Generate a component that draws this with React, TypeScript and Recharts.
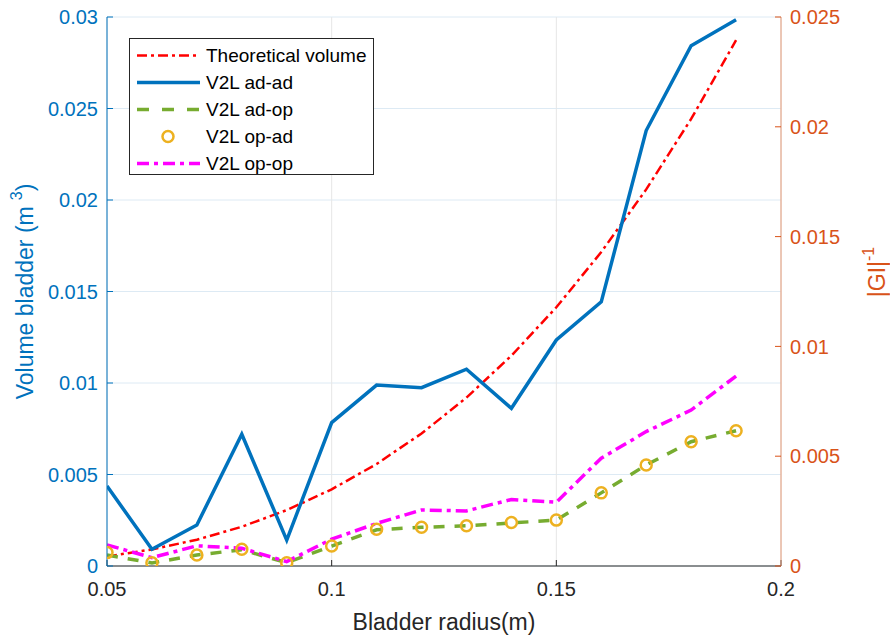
import { LineChart, Line, XAxis, YAxis, CartesianGrid, Legend } from "recharts";

// bladder radius (m)
const radius = [0.05, 0.06, 0.07, 0.08, 0.09, 0.1, 0.11, 0.12, 0.13, 0.14, 0.15, 0.16, 0.17, 0.18, 0.19];

// left axis: volume (m^3)
const theoreticalVolume = [
  0.000524, 0.000905, 0.001437, 0.002145, 0.003054, 0.004189, 0.005575, 0.007238,
  0.009203, 0.011494, 0.014137, 0.017157, 0.02058, 0.024429, 0.028731,
];

// right axis: |GI|^-1
const v2lAdAd = [
  0.00364, 0.00076, 0.00187, 0.006, 0.00118, 0.00653, 0.00824, 0.00812,
  0.00896, 0.00718, 0.01029, 0.01203, 0.01983, 0.02369, 0.02487,
];
const v2lAdOp = [
  0.0005, 0.00014, 0.0005, 0.00074, 0.00015, 0.00091, 0.00165, 0.00176,
  0.00183, 0.00196, 0.00209, 0.00333, 0.0046, 0.00566, 0.00616,
];
const v2lOpAd = [
  0.00061, 0.00015, 0.0005, 0.00076, 0.00015, 0.00091, 0.00167, 0.00176,
  0.00183, 0.00198, 0.00209, 0.00333, 0.0046, 0.00566, 0.00616,
];
const v2lOpOp = [
  0.00096, 0.00038, 0.00092, 0.00081, 0.0002, 0.00122, 0.00194, 0.00255,
  0.00251, 0.00303, 0.0029, 0.00491, 0.00612, 0.0071, 0.00865,
];

const xTicks = [0.05, 0.1, 0.15, 0.2];
const leftTicks = [0, 0.005, 0.01, 0.015, 0.02, 0.025, 0.03];
const rightTicks = [0, 0.005, 0.01, 0.015, 0.02, 0.025];

const BLUE = "#0072BD";
const ORANGE = "#D95319";
const FONT = '"Liberation Sans", Arial, Helvetica, sans-serif';

const rows = radius.map((r, i) => ({
  r,
  theory: theoreticalVolume[i],
  adAd: v2lAdAd[i],
  adOp: v2lAdOp[i],
  opAd: v2lOpAd[i],
  opOp: v2lOpOp[i],
}));

type Entry = { name: string; color: string; width: number; dash?: string; marker?: boolean };

const legendEntries: Entry[] = [
  { name: "Theoretical volume", color: "#FF0000", width: 2.5, dash: "10 4 3 4" },
  { name: "V2L ad-ad", color: BLUE, width: 3.5 },
  { name: "V2L ad-op", color: "#77AC30", width: 3.5, dash: "12 13" },
  { name: "V2L op-ad", color: "#EDB120", width: 2.5, marker: true },
  { name: "V2L op-op", color: "#FF00FF", width: 3.5, dash: "12 5 4 5" },
];

function LegendBox() {
  return (
    <div
      style={{
        width: 245,
        height: 137,
        boxSizing: "border-box",
        border: "1px solid #262626",
        background: "#fff",
        paddingTop: 3,
        fontFamily: FONT,
        fontSize: 19,
        color: "#000",
        whiteSpace: "nowrap",
      }}
    >
      {legendEntries.map((e) => (
        <div key={e.name} style={{ display: "flex", alignItems: "center", height: 27 }}>
          <svg width={76} height={27} style={{ flex: "none" }}>
            {e.marker ? (
              <circle cx={38} cy={13.5} r={5.5} fill="none" stroke={e.color} strokeWidth={e.width} />
            ) : (
              <line
                x1={7}
                x2={70}
                y1={13.5}
                y2={13.5}
                stroke={e.color}
                strokeWidth={e.width}
                strokeDasharray={e.dash}
              />
            )}
          </svg>
          <span>{e.name}</span>
        </div>
      ))}
    </div>
  );
}

const xTitle = (props: any) => {
  const vb = props.viewBox;
  return (
    <text x={vb.x + vb.width / 2} y={vb.y + 56} textAnchor="middle" dominantBaseline="central" fontSize={23} fill="#262626" fontFamily={FONT}>
      Bladder radius(m)
    </text>
  );
};

const leftTitle = (props: any) => {
  const vb = props.viewBox;
  const cx = vb.x - 2;
  const cy = vb.y + vb.height / 2;
  return (
    <text x={cx} y={cy} transform={`rotate(-90 ${cx} ${cy})`} textAnchor="middle" dominantBaseline="central" fontSize={23} fill={BLUE} fontFamily={FONT}>
      Volume bladder (m
      <tspan dx={6} dy={-9} fontSize={16}>3</tspan>
      <tspan dy={9}>)</tspan>
    </text>
  );
};

const rightTitle = (props: any) => {
  const vb = props.viewBox;
  const cx = vb.x + 96;
  const cy = vb.y + 255;
  return (
    <text x={cx} y={cy} transform={`rotate(-90 ${cx} ${cy})`} textAnchor="middle" dominantBaseline="central" fontSize={23} fill={ORANGE} fontFamily={FONT}>
      |GI|
      <tspan dy={-9} fontSize={16}>-1</tspan>
    </text>
  );
};

export default function App() {
  return (
    <div style={{ position: "absolute", left: 0, top: 0, background: "#fff", fontFamily: FONT }}>
      <LineChart width={890} height={637} data={rows} margin={{ top: 17, right: 29, bottom: 31, left: 27 }}>
        <CartesianGrid yAxisId="left" xAxisId="bottom" vertical={false} stroke="#DDEAF4" strokeWidth={1} />
        <CartesianGrid yAxisId="left" xAxisId="bottom" horizontal={false} stroke="#E6E6E6" strokeWidth={1} />
        <XAxis
          xAxisId="bottom"
          dataKey="r"
          type="number"
          domain={[0.05, 0.2]}
          ticks={xTicks}
          allowDataOverflow
          height={40}
          tickSize={-6}
          tickMargin={22}
          stroke="#262626"
          tick={{ fontSize: 20, fill: "#262626" }}
          label={xTitle}
        />
        <XAxis
          xAxisId="top"
          dataKey="r"
          type="number"
          orientation="top"
          domain={[0.05, 0.2]}
          ticks={xTicks}
          allowDataOverflow
          height={0}
          tickSize={-6}
          tickFormatter={() => ""}
          stroke="#262626"
        />
        <YAxis
          yAxisId="left"
          domain={[0, 0.03]}
          ticks={leftTicks}
          allowDataOverflow
          width={80}
          tickSize={-6}
          tickMargin={15}
          stroke={BLUE}
          tick={{ fontSize: 20, fill: BLUE }}
          label={leftTitle}
        />
        <YAxis
          yAxisId="right"
          orientation="right"
          domain={[0, 0.025]}
          ticks={rightTicks}
          allowDataOverflow
          width={80}
          tickSize={-6}
          tickMargin={15}
          stroke="#E49A78"
          tickLine={{ stroke: ORANGE }}
          tick={{ fontSize: 20, fill: ORANGE }}
          label={rightTitle}
        />
        <Legend
          layout="vertical"
          align="center"
          verticalAlign="middle"
          content={() => <LegendBox />}
          wrapperStyle={{ position: "absolute", left: 129, top: 38, width: 245, height: 137 }}
        />
        <Line
          xAxisId="bottom"
          yAxisId="left"
          dataKey="theory"
          name="Theoretical volume"
          stroke="#FF0000"
          strokeWidth={2.5}
          strokeDasharray="10 4 3 4"
          dot={false}
          isAnimationActive={false}
        />
        <Line
          xAxisId="bottom"
          yAxisId="right"
          dataKey="adAd"
          name="V2L ad-ad"
          stroke={BLUE}
          strokeWidth={3.5}
          dot={false}
          isAnimationActive={false}
        />
        <Line
          xAxisId="bottom"
          yAxisId="right"
          dataKey="adOp"
          name="V2L ad-op"
          stroke="#77AC30"
          strokeWidth={3.5}
          strokeDasharray="11 10"
          dot={false}
          isAnimationActive={false}
        />
        <Line
          xAxisId="bottom"
          yAxisId="right"
          dataKey="opAd"
          name="V2L op-ad"
          stroke="none"
          dot={{ r: 5.5, fill: "none", stroke: "#EDB120", strokeWidth: 2.5 }}
          isAnimationActive={false}
        />
        <Line
          xAxisId="bottom"
          yAxisId="right"
          dataKey="opOp"
          name="V2L op-op"
          stroke="#FF00FF"
          strokeWidth={3.5}
          strokeDasharray="12 5 4 5"
          dot={false}
          isAnimationActive={false}
        />
      </LineChart>
    </div>
  );
}
